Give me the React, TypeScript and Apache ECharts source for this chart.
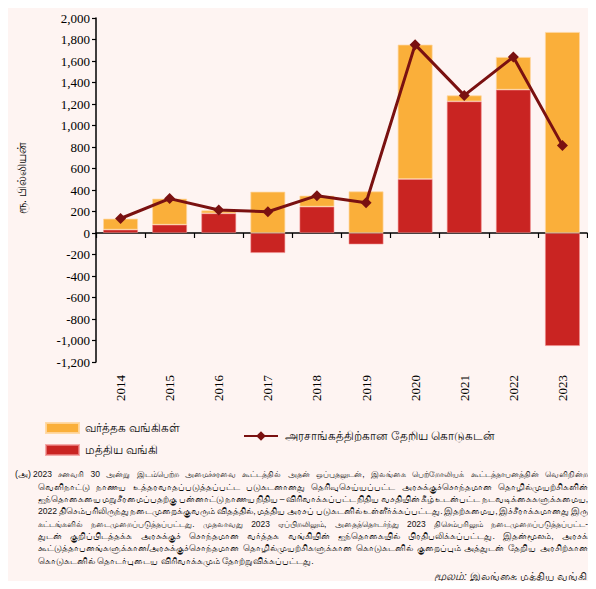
import React, { useEffect, useRef } from "react";
import * as echarts from "echarts";

const years = ["2014", "2015", "2016", "2017", "2018", "2019", "2020", "2021", "2022", "2023"];
const commercialBanks = [102, 242, 27, 384, 102, 387, 1250, 56, 304, 1870];
const centralBank = [31, 77, 183, -186, 245, -106, 502, 1224, 1333, -1051];
const netCreditGov = [135, 320, 214, 198, 347, 282, 1752, 1280, 1637, 815];

const seriesNames = ["வர்த்தக வங்கிகள்", "மத்திய வங்கி", "அரசாங்கத்திற்கான தேறிய கொடுகடன்"];
const yAxisTitle = "ரூ. பில்லியன்";
const noteMark = "(அ)";
const noteLines = [
  "2023 சனவரி 30 அன்று இடம்பெற்ற அமைச்சரவை கூட்டத்தில் அதன் ஒப்புதலுடன், இலங்கை பெற்றோலியக் கூட்டத்தாபனத்தின் வெளிநின்ற",
  "வெளிநாட்டு நாணய உத்தரவாதப்படுத்தப்பட்ட படுகடனானது தெரிவுசெய்யப்பட்ட அரசுக்குச்சொந்தமான தொழில்முயற்சிகளின்",
  "ஐந்தொகையை மறுசீரமைப்பதற்கு பன்னாட்டு நாணய நிதிய – விரிவாக்கப்பட்ட நிதிய வசதியின் கீழ் உடன்பட்ட நடவடிக்கைகளுக்கமைய,",
  "2022 திசெம்பரிலிருந்து நடைமுறைக்குவரும் விதத்தில், மத்திய அரசப் படுகடனில் உள்ளீர்க்கப்பட்டது. இதற்கமைய, இச்சீராக்கமானது இரு",
  "கட்டங்களில் நடைமுறைப்படுத்தப்பட்டது. முதலாவது 2023 ஏப்பிறலிலும், அதைத்தொடர்ந்து 2023 திசெம்பரிலும் நடைமுறைப்படுத்தப்பட்ட-",
  "துடன் குறிப்பிடத்தக்க அரசுக்குச் சொந்தமான வர்த்தக வங்கியின் ஐந்தொகையில் பிரதிபலிக்கப்பட்டது. இதன்மூலம், அரசக்",
  "கூட்டுத்தாபனங்களுக்கான/அரசுக்குச்சொந்தமான தொழில்முயற்சிகளுக்கான கொடுகடனில் குறைப்பும் அத்துடன் தேறிய அரசிற்கான",
  "கொடுகடனில் தொடர்புடைய விரிவாக்கமும் தோற்றுவிக்கப்பட்டது.",
];
const sourceLabel = "மூலம்:";
const sourceText = "இலங்கை மத்திய வங்கி";

const SERIF = "'Liberation Serif', 'Times New Roman', serif";
const SANS = "'Liberation Sans', 'Noto Sans', sans-serif";

export default function App() {
  const ref = useRef<HTMLDivElement>(null);
  useEffect(() => {
    if (!ref.current) return;
    const chart = echarts.init(ref.current, null, { renderer: "svg" });

    const baseSize = 8.8;
    const span = document.createElement("span");
    span.style.position = "absolute";
    span.style.visibility = "hidden";
    span.style.whiteSpace = "pre";
    span.style.left = "-9999px";
    span.style.top = "0";
    document.body.appendChild(span);
    const measure = (t: string, size: number) => {
      span.style.font = `${size}px ${SANS}`;
      span.textContent = t;
      return span.getBoundingClientRect().width;
    };

    const lineYs = [474, 486.5, 498.8, 511.2, 523.6, 536, 548.3, 560.8];
    const right = 588;
    const noteEls: any[] = [];
    noteEls.push({
      type: "text",
      x: 15,
      y: lineYs[0],
      style: { text: noteMark, font: `${baseSize}px ${SANS}`, fill: "#111", textVerticalAlign: "middle" },
    });
    noteLines.forEach((line, i) => {
      const x0 = i === 0 ? 33 : 38;
      const y = lineYs[i];
      const justify = i < noteLines.length - 1;
      if (!justify) {
        noteEls.push({
          type: "text",
          x: x0,
          y,
          style: { text: line, font: `${baseSize}px ${SANS}`, fill: "#111", textVerticalAlign: "middle" },
        });
        return;
      }
      const words = line.split(" ");
      const avail = right - x0;
      const minGap = 2.5;
      let size = baseSize;
      let widths = words.map((w) => measure(w, size));
      let total = widths.reduce((a, b) => a + b, 0);
      const need = total + minGap * (words.length - 1);
      if (need > avail) {
        size = size * ((avail - minGap * (words.length - 1)) / total) * 0.995;
        widths = words.map((w) => measure(w, size));
        total = widths.reduce((a, b) => a + b, 0);
      }
      const gap = words.length > 1 ? (avail - total) / (words.length - 1) : 0;
      let x = x0;
      words.forEach((w, k) => {
        noteEls.push({
          type: "text",
          x,
          y,
          style: { text: w, font: `${size}px ${SANS}`, fill: "#111", textVerticalAlign: "middle" },
        });
        x += widths[k] + gap;
      });
    });
    document.body.removeChild(span);
    noteEls.push({
      type: "text",
      x: 587,
      y: 576,
      style: {
        text: `{i|${sourceLabel}} ${sourceText}`,
        font: `11px ${SANS}`,
        fill: "#111",
        textAlign: "right",
        textVerticalAlign: "middle",
        rich: { i: { fontStyle: "italic", fontSize: 11, fontFamily: SANS } },
      },
    });

    const legendBase = {
      padding: 0,
      itemGap: 0,
      textStyle: { fontSize: 12, fontFamily: SANS, color: "#111", padding: [0, 0, 0, 1] },
    };

    chart.setOption({
      animation: false,
      backgroundColor: "#ffffff",
      graphic: [
        { type: "rect", z: -10, shape: { x: 5, y: 0, width: 591, height: 587 }, style: { fill: "#FEF4F2" }, silent: true },
        {
          type: "text",
          x: 22,
          y: 178,
          rotation: Math.PI / 2,
          style: { text: yAxisTitle, font: `12px ${SANS}`, fill: "#111", textAlign: "center", textVerticalAlign: "middle" },
        },
        ...noteEls,
      ],
      grid: { left: 96, right: 9, top: 18, bottom: 227, containLabel: false },
      legend: [
        {
          ...legendBase,
          left: 45,
          top: 422,
          itemWidth: 33,
          itemHeight: 10,
          icon: "rect",
          data: [seriesNames[0]],
        },
        {
          ...legendBase,
          left: 45,
          top: 444,
          itemWidth: 33,
          itemHeight: 10,
          icon: "rect",
          data: [seriesNames[1]],
        },
        {
          ...legendBase,
          left: 243,
          top: 430,
          itemWidth: 34,
          itemHeight: 12,
          data: [seriesNames[2]],
          textStyle: { fontSize: 11.5, fontFamily: SANS, color: "#111", padding: [0, 0, 0, 2] },
        },
      ],
      xAxis: [
        {
          type: "category",
          data: years,
          axisLine: { onZero: true, lineStyle: { color: "#000", width: 1.5 } },
          axisTick: { show: true, length: 5, lineStyle: { color: "#000", width: 1.2 } },
          axisLabel: { show: false },
        },
        {
          type: "category",
          data: years,
          position: "bottom",
          axisLine: { show: false, onZero: false },
          axisTick: { show: false },
          axisLabel: { rotate: 90, margin: 13, fontSize: 13, fontFamily: SERIF, color: "#000" },
        },
      ],
      yAxis: {
        type: "value",
        min: -1200,
        max: 2000,
        interval: 200,
        splitLine: { show: false },
        axisLine: { show: true, lineStyle: { color: "#000", width: 1.5 } },
        axisTick: { show: true, length: 4, lineStyle: { color: "#000", width: 1.2 } },
        axisLabel: {
          fontSize: 13,
          fontFamily: SERIF,
          color: "#000",
          margin: 6,
          formatter: (v: number) => v.toLocaleString("en-US"),
        },
      },
      series: [
        {
          name: seriesNames[1],
          type: "bar",
          stack: "total",
          data: centralBank,
          barWidth: "71%",
          itemStyle: { color: "#C92422", borderColor: "rgba(240,140,140,0.7)", borderWidth: 0.8 },
        },
        {
          name: seriesNames[0],
          type: "bar",
          stack: "total",
          data: commercialBanks,
          barWidth: "71%",
          itemStyle: { color: "#FAAF3A", borderColor: "rgba(255,215,160,0.9)", borderWidth: 0.8 },
        },
        {
          name: seriesNames[2],
          type: "line",
          data: netCreditGov,
          symbol: "diamond",
          symbolSize: 11,
          lineStyle: { color: "#7A1111", width: 3 },
          itemStyle: { color: "#7A1111" },
          z: 5,
        },
      ],
    });
    return () => chart.dispose();
  }, []);
  return <div ref={ref} style={{ width: 596, height: 589, margin: -8 }} />;
}
